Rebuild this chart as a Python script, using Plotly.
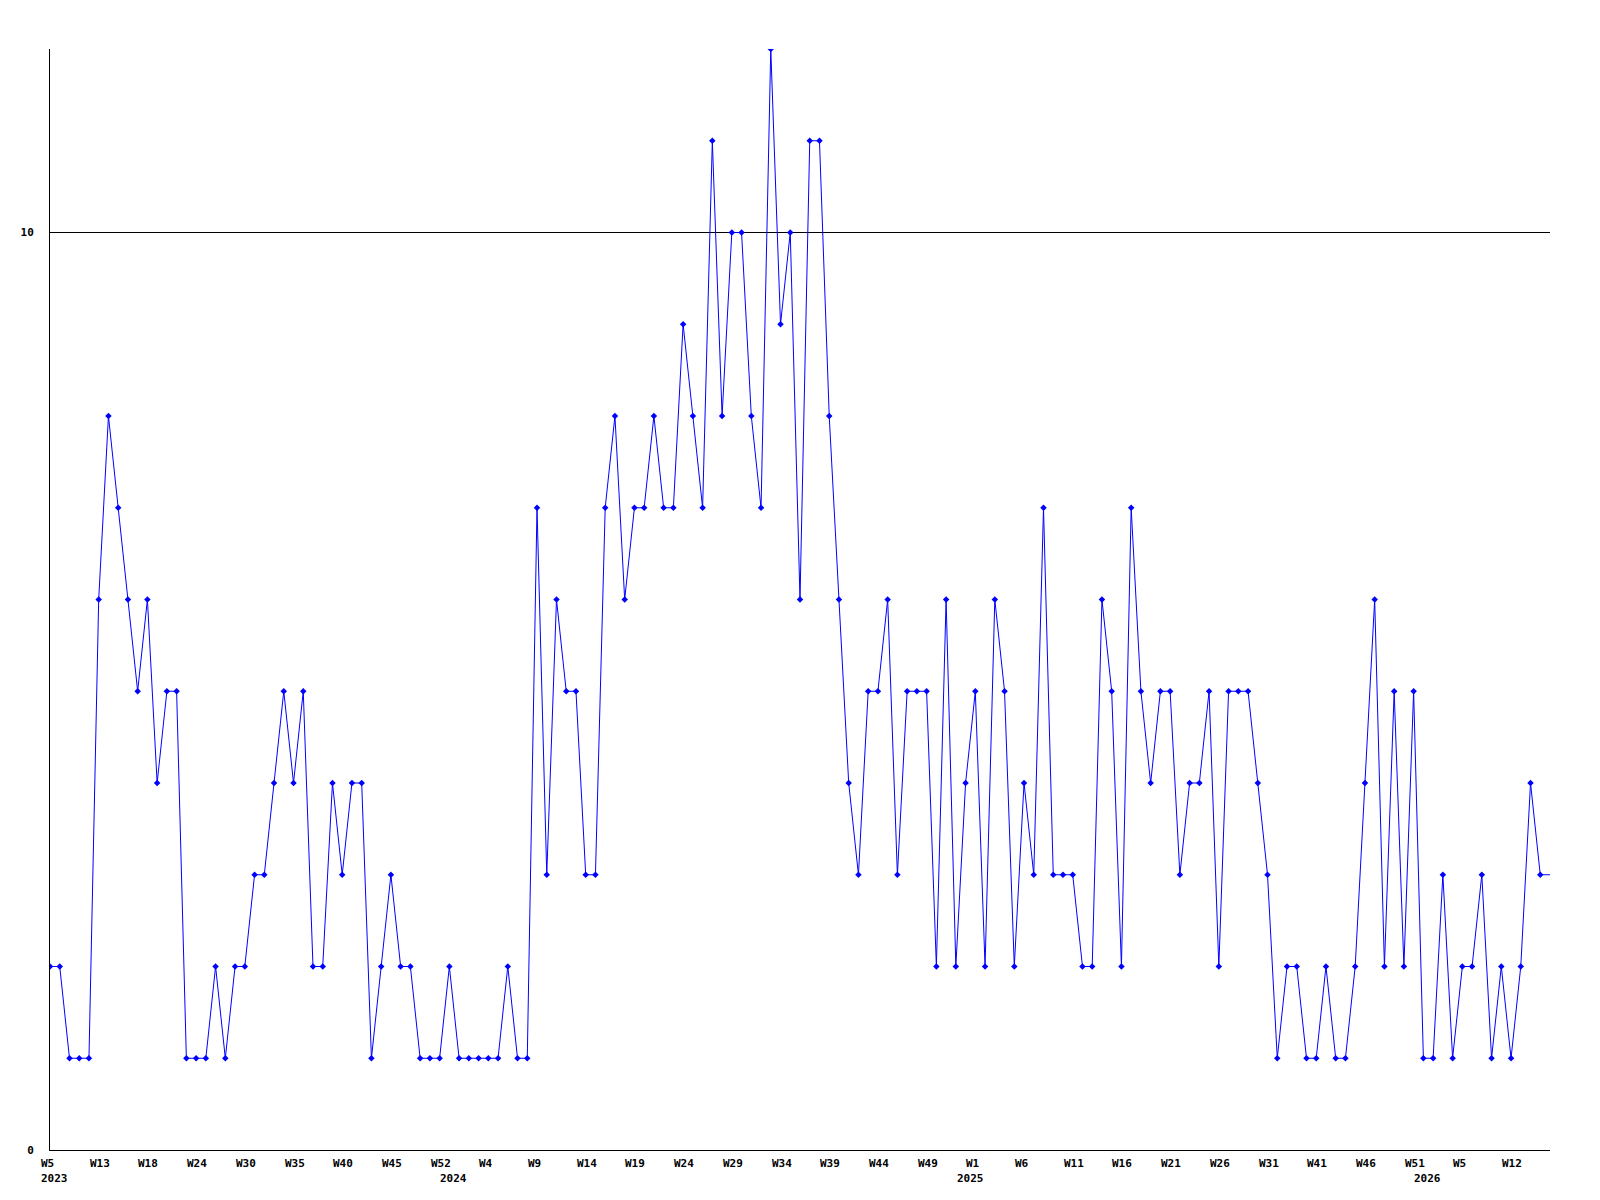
import plotly.graph_objects as go

# weekly counts, one value per point
values = [
    2, 2, 1, 1, 1, 6, 8, 7, 6, 5,
    6, 4, 5, 5, 1, 1, 1, 2, 1, 2,
    2, 3, 3, 4, 5, 4, 5, 2, 2, 4,
    3, 4, 4, 1, 2, 3, 2, 2, 1, 1,
    1, 2, 1, 1, 1, 1, 1, 2, 1, 1,
    7, 3, 6, 5, 5, 3, 3, 7, 8, 6,
    7, 7, 8, 7, 7, 9, 8, 7, 11, 8,
    10, 10, 8, 7, 12, 9, 10, 6, 11, 11,
    8, 6, 4, 3, 5, 5, 6, 3, 5, 5,
    5, 2, 6, 2, 4, 5, 2, 6, 5, 2,
    4, 3, 7, 3, 3, 3, 2, 2, 6, 5,
    2, 7, 5, 4, 5, 5, 3, 4, 4, 5,
    2, 5, 5, 5, 4, 3, 1, 2, 2, 1,
    1, 2, 1, 1, 2, 4, 6, 2, 5, 2,
    5, 1, 1, 3, 1, 2, 2, 3, 1, 2,
    1, 2, 4, 3,
]

# week labels shown every 5th point
week_labels = ['W5', 'W13', 'W18', 'W24', 'W30', 'W35', 'W40', 'W45', 'W52', 'W4',
               'W9', 'W14', 'W19', 'W24', 'W29', 'W34', 'W39', 'W44', 'W49', 'W1',
               'W6', 'W11', 'W16', 'W21', 'W26', 'W31', 'W41', 'W46', 'W51', 'W5',
               'W12']
week_step = 5

# first point of each year
year_labels = ['2023', '2024', '2025', '2026']
year_index = [0, 41, 94, 141]

y_ticks = [0, 10]

font = dict(family='DejaVu Sans Mono', size=11, color='black')
x = list(range(len(values)))
x_end = len(values)

fig = go.Figure()

# the last value runs on to the right edge
fig.add_trace(go.Scatter(
    x=[x[-1], x_end],
    y=[values[-1], values[-1]],
    mode='lines',
    line=dict(color='#0000ff', width=1),
    hoverinfo='skip',
    showlegend=False
))

fig.add_trace(go.Scatter(
    x=x,
    y=values,
    mode='lines+markers',
    line=dict(color='#0000ff', width=1),
    marker=dict(symbol='diamond', size=5, color='#0000ff'),
    showlegend=False
))

for i, label in enumerate(week_labels):
    fig.add_annotation(
        x=i * week_step, y=0, xref='x', yref='paper',
        text='<b>%s</b>' % label, showarrow=False,
        xanchor='left', yanchor='top', xshift=-11, yshift=-5,
        font=font
    )

for idx, label in zip(year_index, year_labels):
    fig.add_annotation(
        x=idx, y=0, xref='x', yref='paper',
        text='<b>%s</b>' % label, showarrow=False,
        xanchor='left', yanchor='top', xshift=-11, yshift=-20,
        font=font
    )

# page body adds 8px on each side, so the figure is a bit smaller than the window
fig.update_layout(
    width=1584,
    height=1184,
    margin=dict(l=42, r=42, t=41, b=42),
    paper_bgcolor='white',
    plot_bgcolor='white',
    font=font,
    showlegend=False
)

fig.update_xaxes(
    range=[0, x_end],
    showticklabels=False,
    ticks='',
    showgrid=False,
    zeroline=False,
    showline=True,
    linecolor='black',
    linewidth=1
)

fig.update_yaxes(
    range=[0, 12],
    tickvals=y_ticks,
    ticktext=['<b>%d</b>' % v for v in y_ticks],
    ticks='',
    ticklabelstandoff=13,
    showgrid=True,
    gridcolor='black',
    gridwidth=1,
    zeroline=False,
    showline=True,
    linecolor='black',
    linewidth=1,
    tickfont=font
)

fig.write_html("out.html")
